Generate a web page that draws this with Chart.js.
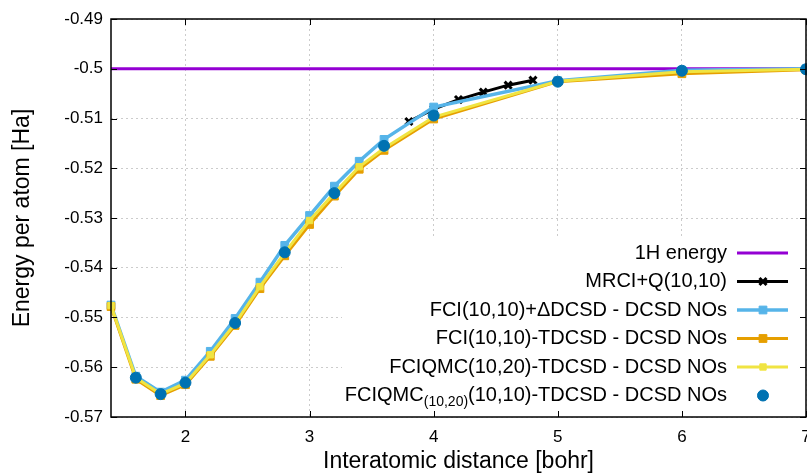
<!DOCTYPE html>
<html>
<head>
<meta charset="utf-8">
<script src="https://cdn.jsdelivr.net/npm/chart.js@4"></script>
<style>
  html, body { margin: 0; padding: 0; background: #fff; overflow: hidden; }
  canvas { display: block; }
</style>
</head>
<body>
<canvas id="myChart" width="807" height="473"></canvas>
<script>
//---------------------------
// DATA
//---------------------------
const distDCSD = [1.4, 1.6, 1.8, 2.0, 2.2, 2.4, 2.6, 2.8, 3.0, 3.2, 3.4, 3.6, 4.0, 5.0, 6.0, 7.0];
const fciDeltaDCSD = [-0.5475, -0.5618, -0.5650, -0.5626, -0.5568, -0.5502, -0.5429, -0.5355, -0.5295, -0.5236, -0.5186, -0.5142, -0.5077, -0.5024, -0.5003, -0.5000];
const fciTDCSD = [-0.5478, -0.5624, -0.5657, -0.5635, -0.5578, -0.5516, -0.5442, -0.5376, -0.5313, -0.5256, -0.5202, -0.5164, -0.5101, -0.5026, -0.5010, -0.5002];
const fciqmcTDCSD = [-0.5476, -0.5621, -0.5654, -0.5632, -0.5575, -0.5512, -0.5438, -0.5370, -0.5305, -0.5250, -0.5197, -0.5160, -0.5097, -0.5025, -0.5006, -0.5001];

const distSub = [1.6, 1.8, 2.0, 2.4, 2.8, 3.2, 3.6, 4.0, 5.0, 6.0, 7.0];
const fciqmcSub = [-0.5621, -0.5654, -0.5631, -0.5511, -0.5369, -0.5250, -0.5155, -0.5094, -0.5026, -0.5004, -0.5001];

const distMRCI = [3.8, 4.0, 4.2, 4.4, 4.6, 4.8];
const mrciQ = [-0.5106, -0.5081, -0.5062, -0.5047, -0.5033, -0.5023];

const distH = [1.4, 7.0];
const energyH = [-0.5, -0.5];

const xTicks = [2, 3, 4, 5, 6, 7];

const legendLabels = [
    '1H energy',
    'MRCI+Q(10,10)',
    'FCI(10,10)+\u0394DCSD - DCSD NOs',
    'FCI(10,10)-TDCSD - DCSD NOs',
    'FCIQMC(10,20)-TDCSD - DCSD NOs',
    ['FCIQMC', '(10,20)', '(10,10)-TDCSD - DCSD NOs']
];

function pts(xs, ys) {
    return xs.map((x, i) => ({ x: x, y: ys[i] }));
}

const FONT = "'Liberation Sans', Arial, sans-serif";

//---------------------------
// FRAME + LEGEND PLUGIN
//---------------------------
const gnuplotFrame = {
    id: 'gnuplotFrame',
    beforeDatasetsDraw(chart) {
        const a = chart.chartArea;
        const ctx = chart.ctx;
        ctx.save();
        ctx.fillStyle = '#ffffff';
        ctx.fillRect(342, 236, a.right - 342, a.bottom - 236);
        ctx.restore();
    },
    afterDatasetsDraw(chart) {
        const a = chart.chartArea;
        const ctx = chart.ctx;
        const xs = chart.scales.x, ys = chart.scales.y;
        ctx.save();
        ctx.strokeStyle = '#000';
        ctx.lineWidth = 1;
        ctx.beginPath();
        xs.ticks.forEach(t => {
            const px = Math.round(xs.getPixelForValue(t.value)) + 0.5;
            ctx.moveTo(px, a.bottom); ctx.lineTo(px, a.bottom - 6);
            ctx.moveTo(px, a.top); ctx.lineTo(px, a.top + 6);
        });
        ys.ticks.forEach(t => {
            const py = Math.round(ys.getPixelForValue(t.value)) + 0.5;
            ctx.moveTo(a.left, py); ctx.lineTo(a.left + 6, py);
            ctx.moveTo(a.right, py); ctx.lineTo(a.right - 6, py);
        });
        ctx.stroke();
        ctx.lineWidth = 1.5;
        ctx.strokeRect(a.left, a.top, a.right - a.left, a.bottom - a.top);
        ctx.restore();
    },
    afterDraw(chart) {
        const ctx = chart.ctx;
        const ds = chart.data.datasets;
        const textRight = 727, x0 = 737, x1 = 788, xm = 763;
        ctx.save();
        ctx.textBaseline = 'middle';
        legendLabels.forEach((lab, i) => {
            const y = 253 + i * 28.5;
            ctx.fillStyle = '#000';
            if (Array.isArray(lab)) {
                ctx.font = '20px ' + FONT;
                const w0 = ctx.measureText(lab[0]).width;
                const w2 = ctx.measureText(lab[2]).width;
                ctx.font = '14px ' + FONT;
                const w1 = ctx.measureText(lab[1]).width;
                const x = textRight - w0 - w1 - w2;
                ctx.textAlign = 'left';
                ctx.font = '20px ' + FONT;
                ctx.fillText(lab[0], x, y);
                ctx.font = '14px ' + FONT;
                ctx.fillText(lab[1], x + w0, y + 7);
                ctx.font = '20px ' + FONT;
                ctx.fillText(lab[2], x + w0 + w1, y);
            } else {
                ctx.font = '20px ' + FONT;
                ctx.textAlign = 'right';
                ctx.fillText(lab, textRight, y);
            }
            const d = ds[i];
            if (d.showLine) {
                ctx.strokeStyle = d.borderColor;
                ctx.lineWidth = d.borderWidth;
                ctx.beginPath();
                ctx.moveTo(x0, y); ctx.lineTo(x1, y);
                ctx.stroke();
            }
            if (d.pointRadius > 0) {
                ctx.fillStyle = d.pointBackgroundColor;
                ctx.strokeStyle = d.pointBorderColor;
                ctx.lineWidth = d.pointBorderWidth;
                Chart.helpers.drawPoint(ctx, {
                    pointStyle: d.pointStyle,
                    radius: d.pointRadius,
                    rotation: 0,
                    borderWidth: d.pointBorderWidth
                }, xm, y);
            }
        });
        ctx.restore();
    }
};

//---------------------------
// CHART
//---------------------------
const ctx = document.getElementById('myChart');

new Chart(ctx, {
    type: 'scatter',
    data: {
        datasets: [{
            label: legendLabels[0],
            data: pts(distH, energyH),
            showLine: true,
            borderColor: '#9400d3',
            backgroundColor: '#9400d3',
            borderWidth: 3,
            pointRadius: 0,
            order: 6
        }, {
            label: legendLabels[1],
            data: pts(distMRCI, mrciQ),
            showLine: true,
            borderColor: '#000000',
            backgroundColor: '#000000',
            borderWidth: 3,
            pointStyle: 'crossRot',
            pointRadius: 5,
            pointBorderWidth: 3,
            pointBackgroundColor: '#000000',
            pointBorderColor: '#000000',
            order: 5
        }, {
            label: legendLabels[2],
            data: pts(distDCSD, fciDeltaDCSD),
            showLine: true,
            borderColor: '#56b4e9',
            backgroundColor: '#56b4e9',
            borderWidth: 3.5,
            pointStyle: 'rect',
            pointRadius: 5.5,
            pointBorderWidth: 1,
            pointBackgroundColor: '#56b4e9',
            pointBorderColor: '#56b4e9',
            order: 4
        }, {
            label: legendLabels[3],
            data: pts(distDCSD, fciTDCSD),
            showLine: true,
            borderColor: '#e69f00',
            backgroundColor: '#e69f00',
            borderWidth: 3,
            pointStyle: 'rect',
            pointRadius: 5.5,
            pointBorderWidth: 1,
            pointBackgroundColor: '#e69f00',
            pointBorderColor: '#e69f00',
            order: 3
        }, {
            label: legendLabels[4],
            data: pts(distDCSD, fciqmcTDCSD),
            showLine: true,
            borderColor: '#f0e442',
            backgroundColor: '#f0e442',
            borderWidth: 3,
            pointStyle: 'rect',
            pointRadius: 4.5,
            pointBorderWidth: 1,
            pointBackgroundColor: '#f0e442',
            pointBorderColor: '#f0e442',
            order: 2
        }, {
            label: 'FCIQMC(10,20)(10,10)-TDCSD - DCSD NOs',
            data: pts(distSub, fciqmcSub),
            showLine: false,
            borderColor: '#0072b2',
            backgroundColor: '#0072b2',
            borderWidth: 0,
            pointStyle: 'circle',
            pointRadius: 5.5,
            pointBorderWidth: 1,
            pointBackgroundColor: '#0072b2',
            pointBorderColor: '#0072b2',
            order: 1
        }]
    },
    options: {
        responsive: false,
        animation: false,
        clip: false,
        layout: { autoPadding: false, padding: { top: 19, right: 1, left: 0, bottom: 0 } },
        plugins: {
            legend: { display: false },
            tooltip: { enabled: false }
        },
        elements: { line: { tension: 0 } },
        scales: {
            x: {
                type: 'linear',
                min: 1.4,
                max: 7,
                afterBuildTicks: (s) => { s.ticks = xTicks.map(v => ({ value: v })); },
                afterFit: (s) => { s.height = 56; s.paddingLeft = 0; s.paddingRight = 0; },
                grid: { color: '#cccccc', borderDash: [2, 3], drawTicks: false },
                border: { display: false, dash: [2, 3] },
                ticks: {
                    color: '#000',
                    padding: 10,
                    font: { family: FONT, size: 17 },
                    callback: (v) => String(v)
                },
                title: {
                    display: true,
                    text: 'Interatomic distance [bohr]',
                    color: '#000',
                    font: { family: FONT, size: 23, lineHeight: 1 },
                    padding: { top: 0, bottom: 0 }
                }
            },
            y: {
                type: 'linear',
                min: -0.57,
                max: -0.49,
                afterFit: (s) => { s.width = 111; s.paddingTop = 0; s.paddingBottom = 0; },
                grid: { color: '#cccccc', borderDash: [2, 3], drawTicks: false },
                border: { display: false, dash: [2, 3] },
                ticks: {
                    stepSize: 0.01,
                    color: '#000',
                    padding: 8,
                    font: { family: FONT, size: 17 },
                    callback: (v) => String(Number(v.toFixed(2)))
                },
                title: {
                    display: true,
                    text: 'Energy per atom [Ha]',
                    color: '#000',
                    font: { family: FONT, size: 23, lineHeight: 1.2 },
                    padding: { top: 9, bottom: 0 }
                }
            }
        }
    },
    plugins: [gnuplotFrame]
});
</script>
</body>
</html>
